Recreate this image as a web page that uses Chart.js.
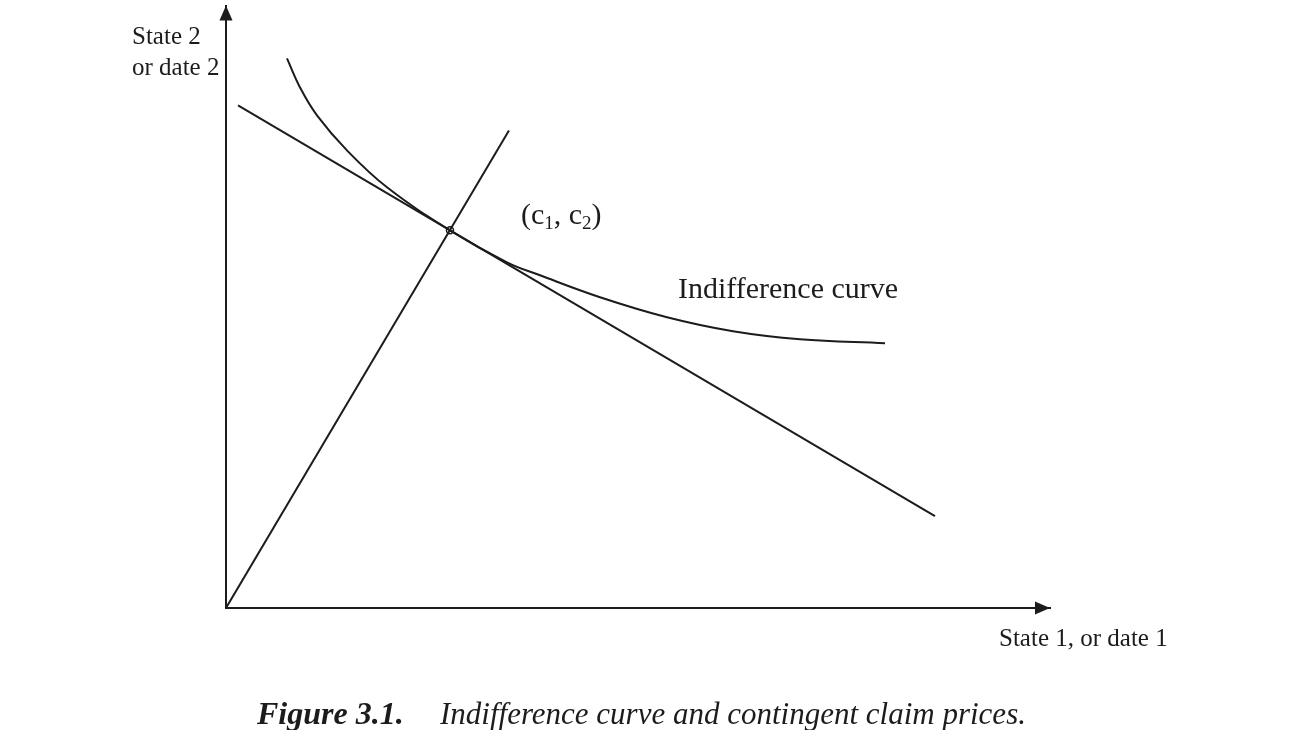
<!DOCTYPE html>
<html><head><meta charset="utf-8">
<script src="https://cdn.jsdelivr.net/npm/chart.js@4"></script>
<style>html,body{margin:0;padding:0;background:#fff}canvas{display:block}</style>
</head><body>
<canvas id="c" width="1300" height="730"></canvas>
<script>
// ---- data (axis units: 0..100 on both axes) ----
const budgetX = [1.46, 86.04];
const budgetY = [83.42, 15.26];
const rayX = [0, 34.34];
const rayY = [0, 79.27];
const curveX = [7.40, 8.98, 11.04, 14.68, 19.54, 27.18, 34.10, 38.11, 45.39, 53.52, 61.53, 69.66, 79.98];
const curveY = [91.21, 86.40, 81.76, 75.95, 69.82, 62.69, 57.38, 55.22, 51.58, 48.26, 45.94, 44.61, 43.95];
const optimumX = [27.18];
const optimumY = [62.69];
const yAxisLabel = ['State 2', 'or date 2'];
const xAxisLabel = 'State 1, or date 1';
const curveLabel = 'Indifference curve';
const pointLabel = ['(c', '1', ', c', '2', ')'];
const captionBold = 'Figure 3.1.';
const captionText = 'Indifference curve and contingent claim prices.';

const toPts = (xs, ys) => xs.map((x, i) => ({x, y: ys[i]}));
const INK = '#1c1c1c';
const SERIF = '"Liberation Serif", "DejaVu Serif", serif';

const annot = {
  id: 'annot',
  afterDraw(chart) {
    const {ctx, chartArea: a, scales: {x, y}} = chart;
    ctx.save();
    ctx.fillStyle = INK;
    // arrowheads
    ctx.beginPath();
    ctx.moveTo(a.left, a.top);
    ctx.lineTo(a.left - 6.5, a.top + 15);
    ctx.lineTo(a.left + 6.5, a.top + 15);
    ctx.closePath(); ctx.fill();
    ctx.beginPath();
    ctx.moveTo(a.right, a.bottom);
    ctx.lineTo(a.right - 15, a.bottom - 6.5);
    ctx.lineTo(a.right - 15, a.bottom + 6.5);
    ctx.closePath(); ctx.fill();
    // axis labels
    ctx.textBaseline = 'alphabetic';
    ctx.textAlign = 'left';
    ctx.font = '25px ' + SERIF;
    ctx.fillText(yAxisLabel[0], 132, 44);
    ctx.fillText(yAxisLabel[1], 132, 75);
    ctx.fillText(xAxisLabel, 999, 646);
    // curve label
    ctx.font = '30px ' + SERIF;
    ctx.fillText(curveLabel, x.getPixelForValue(54.85), y.getPixelForValue(51.5));
    // point label with subscripts
    let px = x.getPixelForValue(35.8), py = y.getPixelForValue(63.7);
    pointLabel.forEach((t, i) => {
      const sub = i === 1 || i === 3;
      ctx.font = (sub ? '19px ' : '30px ') + SERIF;
      ctx.fillText(t, px, py + (sub ? 5 : 0));
      px += ctx.measureText(t).width;
    });
    // caption
    ctx.font = 'italic bold 32px ' + SERIF;
    ctx.fillText(captionBold, 257, 724);
    ctx.font = 'italic 31px ' + SERIF;
    ctx.fillText(captionText, 440, 724);
    ctx.restore();
  }
};

new Chart(document.getElementById('c'), {
  type: 'scatter',
  data: {
    datasets: [
      {data: toPts(budgetX, budgetY), showLine: true, borderColor: INK, borderWidth: 2, pointRadius: 0},
      {data: toPts(rayX, rayY), showLine: true, borderColor: INK, borderWidth: 2, pointRadius: 0},
      {data: toPts(curveX, curveY), showLine: true, borderColor: INK, borderWidth: 2, pointRadius: 0,
       tension: 0.4},
      {data: toPts(optimumX, optimumY), pointRadius: 3.5, pointBackgroundColor: '#fff',
       pointBorderColor: INK, pointBorderWidth: 1.5}
    ]
  },
  options: {
    responsive: false,
    animation: false,
    events: [],
    layout: {padding: {left: 218, right: 250, top: 4, bottom: 114}},
    plugins: {legend: {display: false}, tooltip: {enabled: false}},
    scales: {
      x: {type: 'linear', min: 0, max: 100, grid: {display: false}, ticks: {display: false},
          border: {display: true, color: INK, width: 2}},
      y: {type: 'linear', min: 0, max: 100, grid: {display: false}, ticks: {display: false},
          border: {display: true, color: INK, width: 2}}
    }
  },
  plugins: [annot]
});
</script>
</body></html>
